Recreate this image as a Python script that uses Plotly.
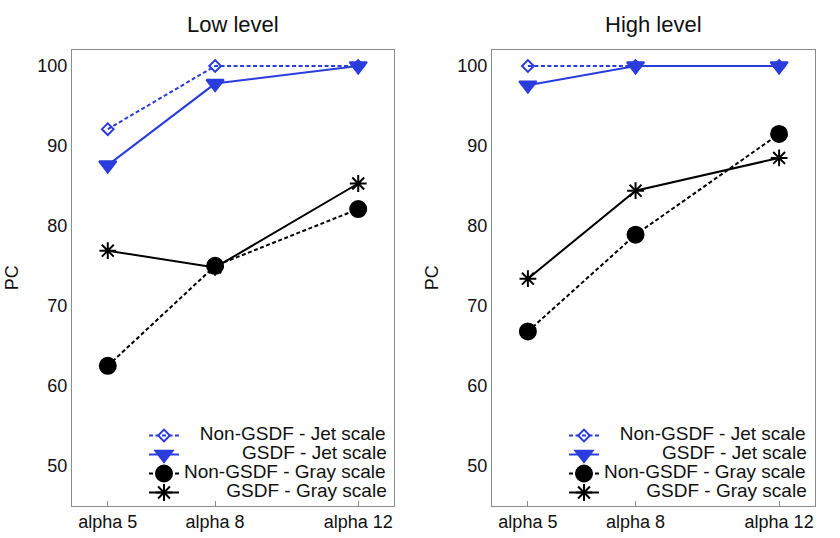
import plotly.graph_objects as go

# Категории по оси X (числовые позиции альфа) и подписи
alpha_vals = [5, 8, 12]
alpha_labels = ["alpha 5", "alpha 8", "alpha 12"]
y_ticks = [50, 60, 70, 80, 90, 100]

panel_titles = ["Low level", "High level"]

# PC для каждой серии: [низкий уровень, высокий уровень]
non_gsdf_jet = [[92.1, 100.0, 100.0], [100.0, 100.0, 100.0]]
gsdf_jet = [[87.6, 97.8, 100.0], [97.6, 100.0, 100.0]]
non_gsdf_gray = [[62.5, 75.0, 82.1], [66.8, 78.9, 91.5]]
gsdf_gray = [[76.9, 74.8, 85.3], [73.4, 84.4, 88.5]]

BLUE = "#2a3ddc"
BLACK = "#000000"
FONT = "Liberation Sans, Arial, sans-serif"
DASH = "4px,2.5px"

# имя серии (с выравниванием вправо как в легенде MATLAB), значения, стиль
series = [
    ("\u00a0" * 3 + "Non-GSDF - Jet scale", non_gsdf_jet, BLUE, DASH, "diamond-open", 9),
    ("\u00a0" * 11 + "GSDF - Jet scale", gsdf_jet, BLUE, "solid", "triangle-down", 15),
    ("Non-GSDF - Gray scale", non_gsdf_gray, BLACK, DASH, "circle", 16),
    ("\u00a0" * 8 + "GSDF - Gray scale", gsdf_gray, BLACK, "solid", "asterisk-open", 14),
]

fig = go.Figure()

for p in range(2):
    xa = "x" if p == 0 else "x2"
    ya = "y" if p == 0 else "y2"
    lg = "legend" if p == 0 else "legend2"
    for name, vals, color, dash, symbol, size in series:
        fig.add_trace(go.Scatter(
            x=alpha_vals, y=vals[p], xaxis=xa, yaxis=ya, legend=lg,
            name=f"<span style='font-size:19px'>{name}</span>",
            mode="lines+markers",
            line=dict(color=color, width=2, dash=dash),
            marker=dict(symbol=symbol, size=size, color=color,
                        line=dict(color=color, width=2)),
        ))

axis_common = dict(
    showline=True, linecolor="#8a8a8a", linewidth=1, mirror=True,
    showgrid=False, zeroline=False,
    tickfont=dict(family=FONT, size=18, color="#111111"),
)

x_dom = [[72 / 840, 394 / 840], [492 / 840, 815 / 840]]
y_dom = [1 - 505.7 / 538, 1 - 50 / 538]

layout = dict(
    width=840, height=538,
    margin=dict(l=0, r=0, t=0, b=0),
    paper_bgcolor="white", plot_bgcolor="white",
    font=dict(family=FONT, color="#111111"),
    showlegend=True,
)

annotations = []
for p in range(2):
    sfx = "" if p == 0 else "2"
    layout["xaxis" + sfx] = dict(
        axis_common, domain=x_dom[p], range=[4, 13],
        tickvals=alpha_vals, ticktext=alpha_labels,
        ticks="inside", ticklen=5, tickcolor="#8a8a8a",
        anchor="y" + sfx,
    )
    layout["yaxis" + sfx] = dict(
        axis_common, domain=y_dom, range=[45, 102],
        tickvals=y_ticks, ticks="",
        title=dict(text="PC", font=dict(family=FONT, size=18), standoff=14),
        anchor="x" + sfx,
    )
    annotations.append(dict(
        text=panel_titles[p], xref="paper", yref="paper",
        x=sum(x_dom[p]) / 2, y=1 - 25 / 538, xanchor="center", yanchor="middle",
        showarrow=False, font=dict(family=FONT, size=22, color="#111111"),
    ))
    layout["legend" + sfx] = dict(
        x=(392 if p == 0 else 812) / 840, y=1 - 464 / 538,
        xanchor="right", yanchor="middle",
        bgcolor="rgba(0,0,0,0)", borderwidth=0,
        font=dict(family=FONT, size=12, color="#111111"),
        tracegroupgap=0,
    )

layout["annotations"] = annotations
fig.update_layout(layout)

# убираем стандартный отступ body, чтобы фигура легла ровно в окно
fig.write_html("out.html", config={"displayModeBar": False},
               post_script="document.body.style.margin='0';")
